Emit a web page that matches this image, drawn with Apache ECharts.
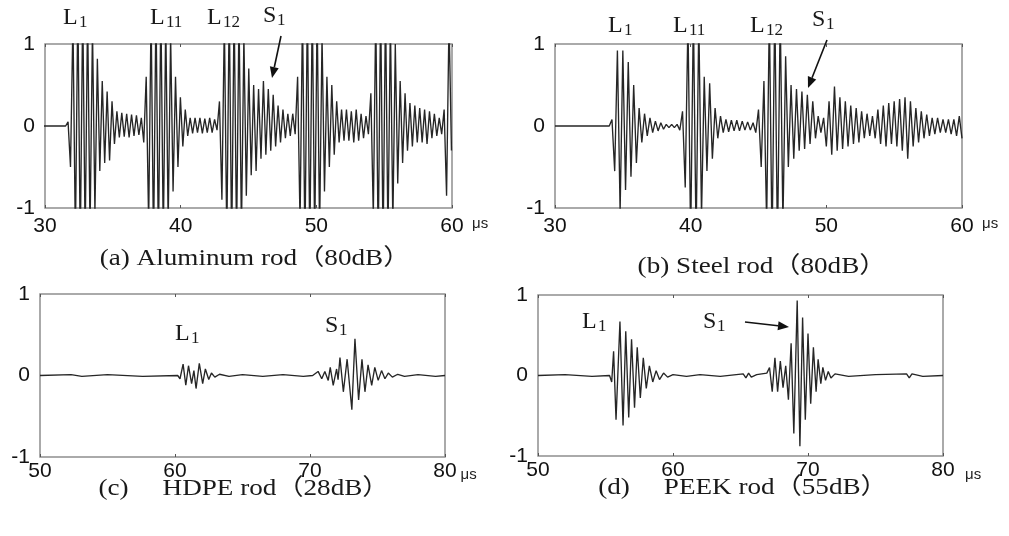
<!DOCTYPE html>
<html>
<head>
<meta charset="utf-8">
<script src="https://cdn.jsdelivr.net/npm/echarts@6/dist/echarts.min.js"></script>
<style>
  html, body { margin: 0; padding: 0; background: #ffffff; }
  #chart { width: 1009px; height: 536px; }
</style>
</head>
<body>
<div id="chart"></div>
<script>
// ---- Waveform data (amplitude normalised to ±1, time in µs) ----

// (a) Aluminum rod: extrema sampled every 0.18 µs starting at 29.9 µs
const aluStart = 29.9;
const aluStep = 0.18;
const aluValues = [
  0, 0, 0, 0, 0, 0, 0, 0, 0, 0,
  // L1
  0.05, -0.5, 1.3, -1.4, 1.5, -1.5, 1.5, -1.4, 1.4, -1.3, 1.2, -1.05,
  0.82, -0.55, 0.55, -0.45, 0.42, -0.42, 0.3, -0.22, 0.18, -0.14,
  0.16, -0.13, 0.15, -0.14, 0.14, -0.12, 0.13, -0.11, 0.1,
  // L11
  -0.2, 0.6, -1.2, 1.4, -1.5, 1.5, -1.5, 1.5, -1.4, 1.3, -1.2, 1.1,
  -0.8, 0.6, -0.5, 0.35, -0.25, 0.2, -0.12, 0.1, -0.09, 0.1, -0.08,
  0.1, -0.09, 0.09, -0.08, 0.1, -0.08, 0.08, -0.05,
  // L12 and S1
  0.3, -0.9, 1.3, -1.4, 1.5, -1.5, 1.5, -1.4, 1.4, -1.3, 1.1, -0.85,
  0.7, -0.6, 0.5, -0.55, 0.45, -0.4, 0.55, -0.35, 0.45, -0.3, 0.38,
  -0.25, 0.25, -0.2, 0.2, -0.15, 0.15, -0.12, 0.15, -0.1,
  // fourth echo
  0.6, -1.2, 1.4, -1.5, 1.5, -1.5, 1.5, -1.4, 1.4, -1.3, 1.1, -0.8,
  0.6, -0.5, 0.5, -0.35, 0.3, -0.2, 0.2, -0.18, 0.2, -0.18, 0.18,
  -0.2, 0.2, -0.18, 0.15, -0.15, 0.12, -0.1,
  // fifth echo
  0.4, -1.1, 1.4, -1.5, 1.5, -1.5, 1.5, -1.4, 1.3, -1.2, 1.0, -0.7,
  0.55, -0.45, 0.4, -0.3, 0.28, -0.25, 0.25, -0.2, 0.22, -0.2, 0.2,
  -0.22, 0.18, -0.15, 0.15, -0.12, 0.1, -0.1, 0.2, -0.85, 1.3, -0.3
];

// (b) Steel rod: extrema sampled every 0.2 µs starting at 30 µs
const steelStart = 30.0;
const steelStep = 0.2;
const steelValues = [
  0, 0, 0, 0, 0, 0, 0, 0, 0, 0, 0, 0, 0, 0, 0, 0, 0, 0, 0, 0, 0,
  // L1
  0.08, -0.55, 0.92, -1.05, 0.92, -0.78, 0.78, -0.62, 0.5, -0.45,
  0.22, -0.2, 0.15, -0.12, 0.1, -0.08, 0.06, -0.06, 0.04, -0.04,
  0.02, -0.02, 0.02, -0.02, 0.02,
  // L11
  -0.05, 0.18, -0.75, 1.3, -1.4, 1.4, -1.4, 1.3, -1.1, 0.6, -0.55,
  0.52, -0.4, 0.22, -0.15, 0.12, -0.08, 0.08, -0.07, 0.07, -0.06,
  0.07, -0.06, 0.06, -0.05, 0.05, -0.05, 0.04,
  // L12 and S1
  -0.08, 0.2, -0.5, 0.55, -1.2, 1.4, -1.5, 1.5, -1.5, 1.4, -1.2,
  0.85, -0.5, 0.5, -0.4, 0.45, -0.3, 0.42, -0.28, 0.38, -0.22, 0.3,
  -0.15, 0.12, -0.08, 0.1,
  // later arrivals
  -0.25, 0.3, -0.35, 0.48, -0.3, 0.35, -0.28, 0.3, -0.25, 0.25,
  -0.22, 0.22, -0.2, 0.18, -0.15, 0.15, -0.12, 0.12, -0.15, 0.2,
  -0.22, 0.25, -0.25, 0.28, -0.22, 0.3, -0.25, 0.33, -0.3, 0.35,
  -0.4, 0.3, -0.25, 0.22, -0.2, 0.18, -0.15, 0.14, -0.12, 0.1,
  -0.1, 0.1, -0.08, 0.08, -0.08, 0.08, -0.1, 0.08, -0.12, 0.12, -0.15
];

// (c) HDPE rod: extrema times and amplitudes
const hdpeTimes = [
  50, 52.3, 53.1, 55.0, 57.6, 60.2, 60.37, 60.6, 60.8, 61.0, 61.23, 61.4,
  61.56, 61.8, 62.05, 62.25, 62.5, 62.7, 62.95, 63.3, 64.0, 65.0, 66.5,
  68.0, 69.5, 70.2, 70.6, 70.87, 71.1, 71.35, 71.5, 71.72, 71.97, 72.08,
  72.22, 72.47, 72.75, 73.1, 73.33, 73.6, 73.85, 74.07, 74.3, 74.57,
  74.8, 75.05, 75.3, 75.55, 75.8, 76.1, 76.5, 77.0, 78.0, 79.3, 80
];
const hdpeValues = [
  0, 0.01, -0.01, 0.01, -0.01, 0, -0.04, 0.14, -0.12, 0.12, -0.1, 0.06,
  -0.16, 0.15, -0.1, 0.08, -0.05, 0.03, -0.02, 0.015, -0.01, 0.01, -0.01,
  0.01, -0.01, 0, 0.05, -0.04, 0.05, -0.06, 0.1, -0.12, 0.08, -0.05,
  0.22, -0.2, 0.2, -0.42, 0.45, -0.3, 0.2, -0.2, 0.13, -0.12,
  0.1, -0.06, 0.06, -0.04, 0.03, -0.02, 0.015, -0.01, 0.01, -0.01, 0
];

// (d) PEEK rod: extrema times and amplitudes
const peekTimes = [
  50, 52.0, 54.0, 55.3, 55.46, 55.6, 55.78, 56.07, 56.3, 56.5, 56.72,
  56.93, 57.15, 57.35, 57.58, 57.8, 58.02, 58.25, 58.5, 58.75, 59.0,
  59.3, 59.6, 60.0, 61.0, 62.0, 63.5, 65.2, 65.4, 65.6, 65.8, 66.2,
  66.95, 67.15, 67.35, 67.55, 67.75, 67.95, 68.15, 68.35, 68.55, 68.75,
  68.95, 69.2, 69.4, 69.6, 69.8, 70.0, 70.2, 70.4, 70.6, 70.75, 70.95,
  71.1, 71.3, 71.5, 71.7, 72.0, 73.0, 75.0, 77.3, 77.5, 77.7, 78.5, 80
];
const peekValues = [
  0, 0.01, -0.01, 0, -0.08, 0.3, -0.55, 0.67, -0.62, 0.55, -0.52,
  0.45, -0.4, 0.35, -0.28, 0.22, -0.16, 0.12, -0.08, 0.06, -0.05,
  0.03, -0.02, 0.01, -0.01, 0.01, -0.01, 0.02, -0.03, 0.03, -0.02, 0.01,
  0.03, 0.1, -0.2, 0.22, -0.2, 0.18, -0.15, 0.12, -0.3, 0.4,
  -0.72, 0.93, -0.88, 0.72, -0.55, 0.52, -0.35, 0.35, -0.2, 0.2, -0.1,
  0.1, -0.06, 0.05, -0.03, 0.02, -0.01, 0.01, 0.02, -0.03, 0.02, -0.01, 0
];

// Axis ranges and tick labels
const xRanges = [[30, 60], [30, 60], [50, 80], [50, 80]];
const yTicks = [-1, 0, 1];
const timeUnit = 'μs';

const captions = [
  '(a) Aluminum rod（80dB）',
  '(b) Steel rod（80dB）',
  '(c)     HDPE rod（28dB）',
  '(d)     PEEK rod（55dB）'
];

// ---- Build series points ----
const sampled = (start, step, values) => values.map((v, i) => [+(start + i * step).toFixed(3), v]);
const paired = (times, values) => times.map((t, i) => [t, values[i]]);

const seriesData = [
  sampled(aluStart, aluStep, aluValues),
  sampled(steelStart, steelStep, steelValues),
  paired(hdpeTimes, hdpeValues),
  paired(peekTimes, peekValues)
];

// ---- Layout ----
const grids = [
  { left: 45, top: 44, width: 407, height: 164 },
  { left: 555, top: 44, width: 407, height: 164 },
  { left: 40, top: 294, width: 405, height: 163 },
  { left: 538, top: 295, width: 405, height: 161 }
];
const labelMargins = [8, 8, 4, 4];
const unitGaps = [20, 20, 15, 22];
const unitPad = [8, 8, 10, 11];

const sansFont = '"Liberation Sans", Arial, sans-serif';
const serifFont = '"Liberation Serif", "Times New Roman", "Noto Sans CJK SC", serif';
const textColor = '#1a1a1a';

const xAxes = [];
const yAxes = [];
grids.forEach((g, i) => {
  xAxes.push({
    type: 'value', gridIndex: i, min: xRanges[i][0], max: xRanges[i][1], interval: 10,
    position: 'bottom',
    name: timeUnit, nameLocation: 'end', nameGap: unitGaps[i],
    nameTextStyle: { fontFamily: sansFont, fontSize: 15, color: '#222', verticalAlign: 'top', align: 'left', padding: [unitPad[i], 0, 0, 0] },
    axisLine: { show: false, onZero: false },
    axisTick: { show: true, inside: true, length: 3, lineStyle: { color: '#555', width: 1 } },
    axisLabel: { fontFamily: sansFont, fontSize: 21, color: '#111', margin: labelMargins[i] },
    splitLine: { show: false }
  });
  yAxes.push({
    type: 'value', gridIndex: i, min: -1, max: 1, interval: 1,
    axisLine: { show: false, onZero: false },
    axisTick: { show: false },
    axisLabel: {
      fontFamily: sansFont, fontSize: 21, color: '#111', margin: 10,
      formatter: v => (yTicks.includes(v) ? String(v) : '')
    },
    splitLine: { show: false }
  });
});
// Top edge tick marks
grids.forEach((g, i) => {
  xAxes.push({
    type: 'value', gridIndex: i, min: xRanges[i][0], max: xRanges[i][1], interval: 10,
    position: 'top',
    axisLine: { show: false, onZero: false },
    axisTick: { show: true, inside: true, length: 3, lineStyle: { color: '#555', width: 1 } },
    axisLabel: { show: false },
    splitLine: { show: false }
  });
});

const series = seriesData.map((data, i) => ({
  type: 'line', xAxisIndex: i, yAxisIndex: i, data,
  showSymbol: false, symbol: 'none', clip: true, animation: false,
  lineStyle: { color: '#262626', width: 1.35 }
}));

// ---- Annotations ----
const graphic = [];
function waveLabel(x, y, main, sub) {
  graphic.push({
    type: 'text', left: x, top: y - 14, z: 10,
    style: { text: main, font: '24px ' + serifFont, fill: textColor }
  });
  graphic.push({
    type: 'text', left: x + (main === 'L' ? 16 : 14), top: y - 6, z: 10,
    style: { text: sub, font: '17px ' + serifFont, fill: textColor }
  });
}
function arrow(x1, y1, x2, y2) {
  const ang = Math.atan2(y2 - y1, x2 - x1);
  const len = 11, half = 4.5;
  const bx = x2 - len * Math.cos(ang), by = y2 - len * Math.sin(ang);
  const px = -Math.sin(ang) * half, py = Math.cos(ang) * half;
  graphic.push({
    type: 'line', z: 10,
    shape: { x1: x1, y1: y1, x2: bx, y2: by },
    style: { stroke: '#111', lineWidth: 1.6 }
  });
  graphic.push({
    type: 'polygon', z: 10,
    shape: { points: [[x2, y2], [bx + px, by + py], [bx - px, by - py]] },
    style: { fill: '#111' }
  });
}

// (a)
waveLabel(63, 20, 'L', '1');
waveLabel(150, 20, 'L', '11');
waveLabel(207, 20, 'L', '12');
waveLabel(263, 18, 'S', '1');
arrow(281, 36, 272, 78);
// (b)
waveLabel(608, 28, 'L', '1');
waveLabel(673, 28, 'L', '11');
waveLabel(750, 28, 'L', '12');
waveLabel(812, 22, 'S', '1');
arrow(827, 40, 808, 88);
// (c)
waveLabel(175, 336, 'L', '1');
waveLabel(325, 328, 'S', '1');
// (d)
waveLabel(582, 324, 'L', '1');
waveLabel(703, 324, 'S', '1');
arrow(745, 322, 789, 327);

// Captions (horizontally widened serif text)
const captionPos = [[255, 259], [762, 267], [244, 489], [743, 488]];
captions.forEach((txt, i) => {
  graphic.push({
    type: 'text', z: 10,
    x: captionPos[i][0], y: captionPos[i][1], scaleX: 1.18,
    style: { text: txt, font: '23px ' + serifFont, fill: textColor, align: 'center', verticalAlign: 'middle' }
  });
});

const chart = echarts.init(document.getElementById('chart'), null, { renderer: 'canvas' });
chart.setOption({
  backgroundColor: '#ffffff',
  animation: false,
  grid: grids.map(g => Object.assign({ show: true, borderColor: '#8f8f8f', borderWidth: 1.5, backgroundColor: 'transparent' }, g)),
  xAxis: xAxes,
  yAxis: yAxes,
  series,
  graphic
});
</script>
</body>
</html>
